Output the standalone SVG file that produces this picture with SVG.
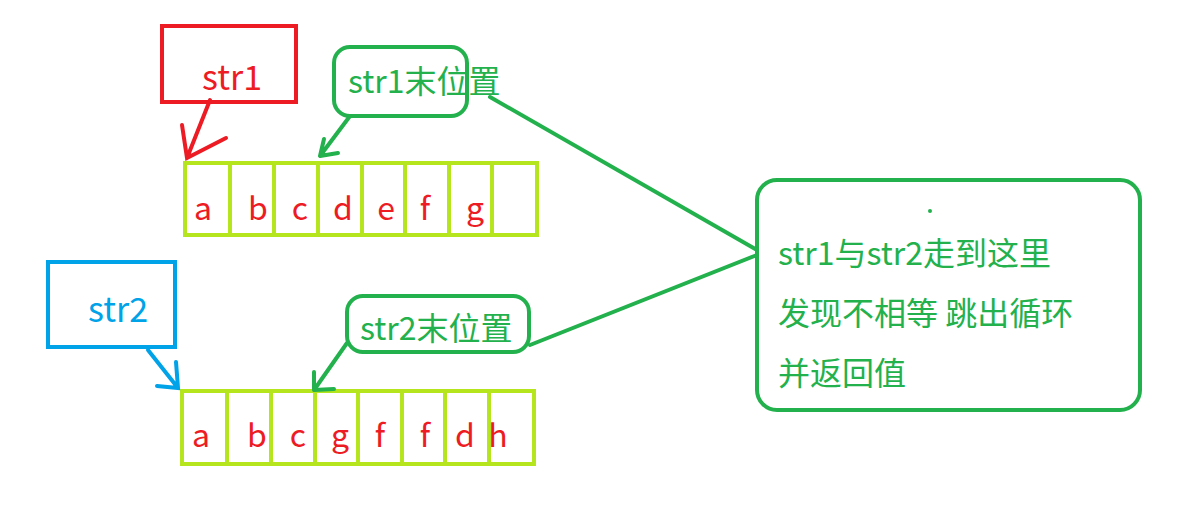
<svg xmlns="http://www.w3.org/2000/svg" width="1194" height="509" viewBox="0 0 1194 509">
<style>
.t{font-family:"Microsoft YaHei","Noto Sans CJK SC","Noto Sans",sans-serif;}
.cell{fill:#fff;stroke:#b5e61d;stroke-width:4}
.ch{font-size:32px;fill:#ed1c24}
.g{stroke:#22b14c;stroke-width:4;fill:none;stroke-linecap:round;stroke-linejoin:round}
.gt{font-size:32px;fill:#22b14c}
</style>
<rect width="1194" height="509" fill="#fff"/>
<g id="str1">
<rect x="162" y="26" width="134" height="76" fill="none" stroke="#ed1c24" stroke-width="4"/>
<text class="t" x="232" y="90" font-size="34" fill="#ed1c24" text-anchor="middle">str1</text>
</g>
<g id="str1end">
<rect x="334" y="47" width="133" height="69" rx="16" class="g"/>
<text class="t gt" x="348" y="93">str1末位置</text>
</g>
<g id="str2">
<rect x="48" y="262" width="127" height="85" fill="none" stroke="#00a2e8" stroke-width="4"/>
<text class="t" x="88" y="322" font-size="34" fill="#00a2e8">str2</text>
</g>
<g id="str2end">
<rect x="347" y="296" width="182" height="56" rx="16" class="g"/>
<text class="t gt" x="360" y="340">str2末位置</text>
</g>
<g id="note">
<rect x="757" y="180" width="383" height="230" rx="20" class="g"/>
<circle cx="930" cy="211" r="2" fill="#22b14c"/>
<text class="t gt" x="778" y="265">str1与str2走到这里</text>
<text class="t gt" x="778" y="325">发现不相等 跳出循环</text>
<text class="t gt" x="778" y="385">并返回值</text>
</g>
<g id="arr1">
<rect x="185" y="163" width="352" height="72" class="cell"/>
<path d="M230 163V235M274 163V235M318 163V235M362 163V235M405 163V235M449 163V235M492 163V235" stroke="#b5e61d" stroke-width="4"/>
<g class="t ch" text-anchor="middle">
<text x="203" y="220">a</text><text x="258" y="220">b</text><text x="300" y="220">c</text><text x="343" y="220">d</text><text x="386" y="220">e</text><text x="425" y="220">f</text><text x="475" y="220">g</text>
</g>
</g>
<g id="arr2">
<rect x="182" y="391" width="352" height="73" class="cell"/>
<path d="M227 391V464M271 391V464M315 391V464M358 391V464M402 391V464M445 391V464M489 391V464" stroke="#b5e61d" stroke-width="4"/>
<g class="t ch" text-anchor="middle">
<text x="201" y="447">a</text><text x="257" y="447">b</text><text x="298" y="447">c</text><text x="340" y="447">g</text><text x="380" y="447">f</text><text x="425" y="447">f</text><text x="465" y="447">d</text><text x="498" y="447">h</text>
</g>
</g>
<g id="connectors">
<path d="M210 100L187 158M182 125L187 158L226 138" fill="none" stroke="#ed1c24" stroke-width="4" stroke-linecap="round"/>
<path class="g" d="M350 116L320 156M324 139L320 156L338 153"/>
<path d="M148 350L178 388M176 362L178 388L157 386" fill="none" stroke="#00a2e8" stroke-width="4" stroke-linecap="round"/>
<path class="g" d="M347 343L314 390M314 372L314 390L334 389"/>
<path class="g" d="M490 97L757 250"/>
<path class="g" d="M530 345L757 255"/>
</g>
</svg>
